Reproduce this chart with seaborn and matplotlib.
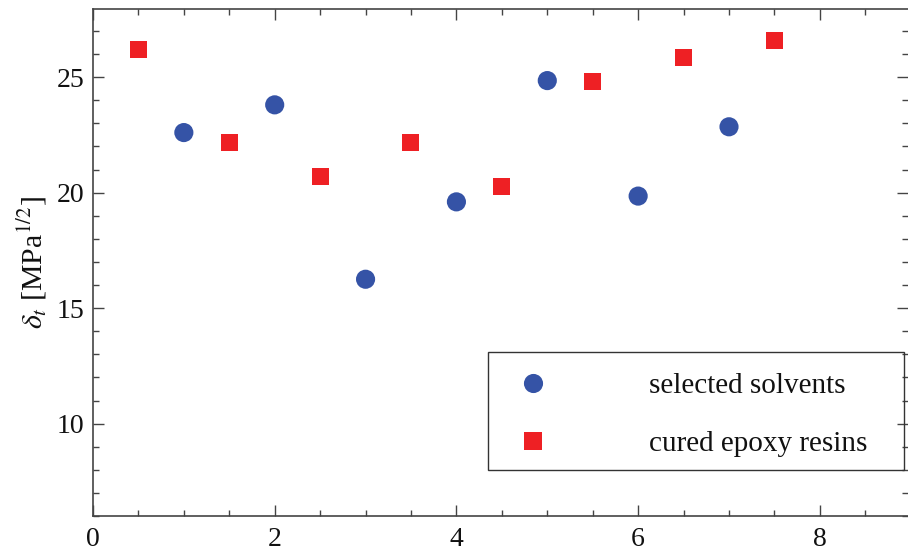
import matplotlib
matplotlib.use("Agg")
import matplotlib.pyplot as plt
import seaborn as sns
import pandas as pd
from matplotlib.ticker import MultipleLocator
from matplotlib.patches import Rectangle

solvent_x = [1, 2, 3, 4, 5, 6, 7]
solvent_y = [22.6, 23.8, 16.25, 19.6, 24.85, 19.85, 22.85]
resin_x = [0.5, 1.5, 2.5, 3.5, 4.5, 5.5, 6.5, 7.5]
resin_y = [26.2, 22.15, 20.7, 22.15, 20.25, 24.8, 25.85, 26.6]
labels = ["selected solvents", "cured epoxy resins"]

df = pd.DataFrame({
    "x": solvent_x + resin_x,
    "y": solvent_y + resin_y,
    "series": [labels[0]] * len(solvent_x) + [labels[1]] * len(resin_x),
})

sns.set_style("ticks")
plt.rcParams["font.family"] = ["Liberation Serif", "DejaVu Serif"]
plt.rcParams["mathtext.fontset"] = "stix"

fig = plt.figure(figsize=(9.08, 5.51), dpi=100)
ax = fig.add_axes([0.1024, 0.0635, 0.8976, 0.9202])

sns.scatterplot(data=df, x="x", y="y", hue="series", style="series",
                size="series",
                palette={labels[0]: "#3553a6", labels[1]: "#ee2024"},
                markers={labels[0]: "o", labels[1]: "s"},
                sizes={labels[0]: 190, labels[1]: 150},
                linewidth=0, ax=ax, legend=True)

ax.set_xlim(0, 8.97)
ax.set_ylim(6.0, 27.95)
ax.xaxis.set_major_locator(MultipleLocator(2))
ax.xaxis.set_minor_locator(MultipleLocator(0.5))
ax.yaxis.set_major_locator(MultipleLocator(5))
ax.yaxis.set_minor_locator(MultipleLocator(1))
ax.tick_params(which="both", direction="in", top=True, right=True,
               color="#444444", width=1.0, labelsize=20, labelcolor="#111111")
ax.tick_params(which="major", length=8)
ax.tick_params(which="minor", length=4)
ax.tick_params(axis="y", pad=6)
ax.tick_params(axis="x", pad=8)
for sp in ["left", "bottom", "top"]:
    ax.spines[sp].set_color("#444444")
    ax.spines[sp].set_linewidth(1.2)
ax.spines["right"].set_visible(False)

ax.set_xlabel("")
ax.set_ylabel(r"$\delta_t$ [MPa$^{1/2}$]", fontsize=21.5, labelpad=6,
              color="#111111")

leg = ax.legend(loc="upper left", bbox_to_anchor=(0.522, 0.282),
                fontsize=21, frameon=False,
                handletextpad=3.47, borderpad=0, labelspacing=1.07,
                borderaxespad=0, handlelength=1.0)
for t in leg.get_texts():
    t.set_color("#111111")

ax.add_patch(Rectangle((0.4847, 0.0907), 0.995 - 0.4847, 0.3235 - 0.0907,
                       transform=ax.transAxes, fill=False,
                       edgecolor="#333333", linewidth=1.0, zorder=5))

fig.savefig("out.png", dpi=100)
